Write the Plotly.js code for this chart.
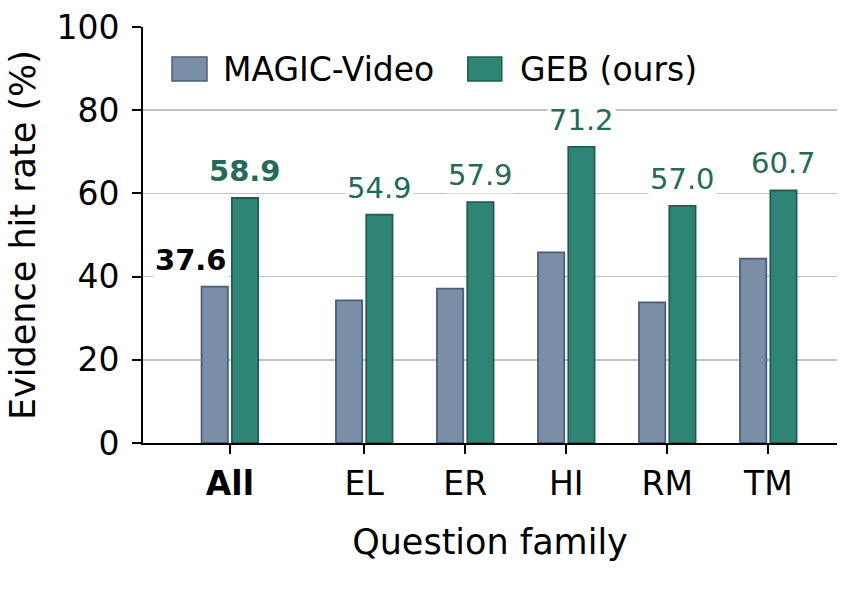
<!DOCTYPE html>
<html>
<head>
<meta charset="utf-8">
<script src="https://cdn.plot.ly/plotly-3.0.1.min.js"></script>
<style>
  html, body { margin: 0; padding: 0; background: #fff; }
  #chart { width: 844px; height: 600px; }
</style>
</head>
<body>
<div id="chart"></div>
<script>
// question families, "All" sits a bit apart from the rest
const families = ["All", "EL", "ER", "HI", "RM", "TM"];
const family_pos = [0, 1.33, 2.33, 3.33, 4.33, 5.33];
const magic_vals = [37.6, 34.3, 37.1, 45.8, 33.8, 44.3];
const geb_vals = [58.9, 54.9, 57.9, 71.2, 57.0, 60.7];
const series_names = ["MAGIC-Video", "GEB (ours)"];

const FONT = "DejaVu Sans, Liberation Sans, sans-serif";
const MAGIC_FILL = "#7b8ea7";
const MAGIC_EDGE = "#4c5d76";
const GEB_FILL = "#2f8575";
const GEB_EDGE = "#225c52";
const LABEL_TEAL = "#25695c";
const BAR_W = 0.26;

var data = [
	{
		type: "bar",
		name: series_names[0],
		x: family_pos,
		y: magic_vals,
		width: BAR_W,
		offset: -0.28,
		marker: { color: MAGIC_FILL, line: { color: MAGIC_EDGE, width: 1.8 } },
		hoverinfo: "skip",
	},
	{
		type: "bar",
		name: series_names[1],
		x: family_pos,
		y: geb_vals,
		width: BAR_W,
		offset: 0.02,
		marker: { color: GEB_FILL, line: { color: GEB_EDGE, width: 1.8 } },
		hoverinfo: "skip",
	},
];

// value labels on top of the GEB bars
var annotations = [];
for (let i = 0; i < families.length; i++) {
	const is_all = families[i] === "All";
	annotations.push({
		x: family_pos[i] + 0.15,
		y: geb_vals[i],
		xref: "x",
		yref: "y",
		text: is_all ? "<b>" + geb_vals[i].toFixed(1) + "</b>" : geb_vals[i].toFixed(1),
		showarrow: false,
		yanchor: "bottom",
		yshift: 8,
		bgcolor: "#ffffff",
		borderpad: 1,
		font: { family: FONT, size: 29, color: LABEL_TEAL },
	});
}
// the baseline overall number, set to the left of its bar
annotations.push({
	x: family_pos[0] - 0.38,
	y: magic_vals[0],
	xref: "x",
	yref: "y",
	text: "<b>" + magic_vals[0].toFixed(1) + "</b>",
	showarrow: false,
	yanchor: "bottom",
	yshift: 8,
	bgcolor: "#ffffff",
	borderpad: 1,
	font: { family: FONT, size: 29, color: "#000000" },
});

// hand-made legend so the swatches can be big
const legend_items = [
	{ name: series_names[0], fill: MAGIC_FILL, edge: MAGIC_EDGE, x0: 0.0418, x1: 0.0922, tx: 0.113 },
	{ name: series_names[1], fill: GEB_FILL, edge: GEB_EDGE, x0: 0.468, x1: 0.517, tx: 0.540 },
];
var shapes = [];
for (item of legend_items) {
	shapes.push({
		type: "rect",
		xref: "paper",
		yref: "paper",
		x0: item.x0,
		x1: item.x1,
		y0: 0.870,
		y1: 0.928,
		fillcolor: item.fill,
		line: { color: item.edge, width: 1.5 },
	});
	annotations.push({
		xref: "paper",
		yref: "paper",
		x: item.tx,
		y: 0.899,
		xanchor: "left",
		yanchor: "middle",
		text: item.name,
		showarrow: false,
		font: { family: FONT, size: 33, color: "#000000" },
	});
}

var layout = {
	width: 844,
	height: 600,
	showlegend: false,
	barmode: "overlay",
	font: { family: FONT, color: "#000000" },
	margin: { l: 143, r: 7, t: 27, b: 157 },
	paper_bgcolor: "#ffffff",
	plot_bgcolor: "#ffffff",
	xaxis: {
		type: "linear",
		range: [-0.86, 6.01],
		tickvals: family_pos,
		ticktext: families.map(f => f === "All" ? "<b>All</b>" : f),
		ticks: "outside",
		ticklen: 9,
		tickwidth: 2,
		tickcolor: "#000000",
		showline: true,
		linecolor: "#000000",
		linewidth: 2,
		showgrid: false,
		zeroline: false,
		tickfont: { family: FONT, size: 33, color: "#000000" },
		ticklabelstandoff: 1,
		title: { text: "Question family", font: { family: FONT, size: 35, color: "#000000" }, standoff: 28 },
		automargin: false,
	},
	yaxis: {
		range: [0, 100],
		tickvals: [0, 20, 40, 60, 80, 100],
		ticks: "outside",
		ticklen: 9,
		tickwidth: 2,
		tickcolor: "#000000",
		showline: true,
		linecolor: "#000000",
		linewidth: 2,
		showgrid: true,
		gridcolor: "#c2c2c2",
		gridwidth: 1.5,
		zeroline: false,
		tickfont: { family: FONT, size: 33, color: "#000000" },
		ticklabelstandoff: 6,
		title: { text: "Evidence hit rate (%)", font: { family: FONT, size: 35, color: "#000000" }, standoff: 10 },
		automargin: false,
	},
	shapes: shapes,
	annotations: annotations,
};

Plotly.newPlot("chart", data, layout, { displayModeBar: false, staticPlot: true });
</script>
</body>
</html>
